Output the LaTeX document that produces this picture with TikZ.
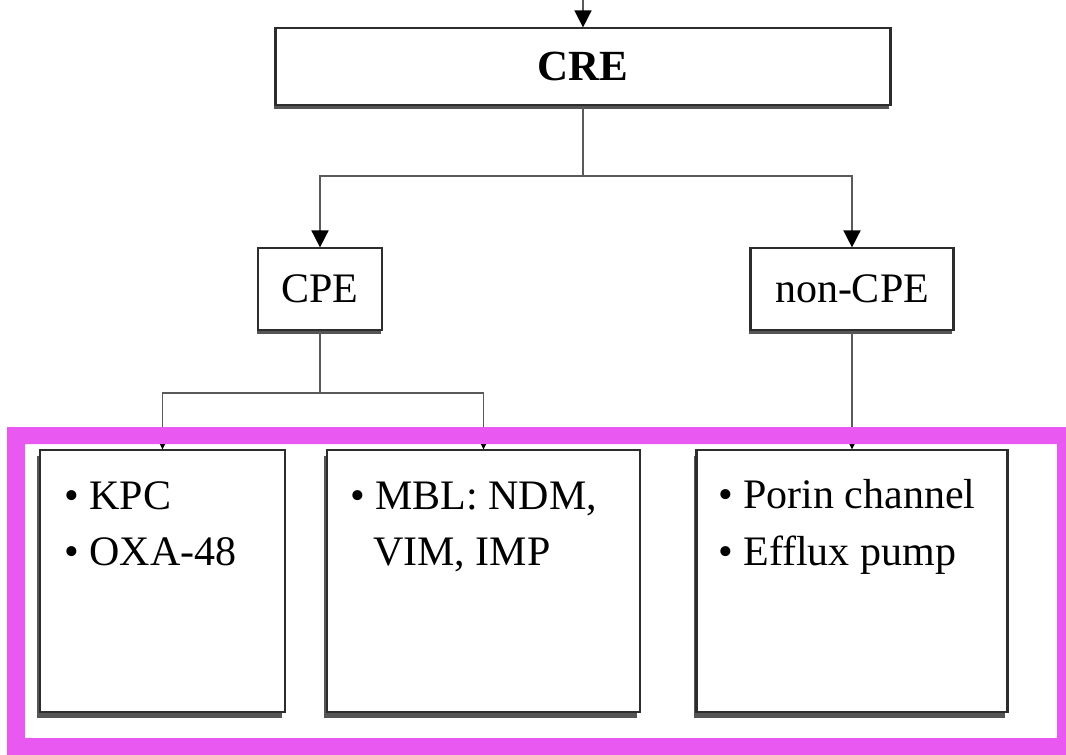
\documentclass[tikz,border=0pt]{standalone}
\usepackage{fontspec}
\setmainfont{Liberation Serif}
\usetikzlibrary{arrows.meta,shadows}
\definecolor{mag}{RGB}{234,88,242}
\definecolor{edgec}{RGB}{45,45,45}
\definecolor{shadec}{RGB}{85,85,85}
\definecolor{connc}{RGB}{90,90,90}
\begin{document}
\begin{tikzpicture}[x=1pt,y=-1pt,
  boxbase/.style={draw=edgec,line width=2.2pt,fill=white,rectangle,inner sep=0pt},
  topbox/.style={boxbase,drop shadow={shadow xshift=-1.5pt,shadow yshift=-4pt,fill=shadec,opacity=1},
    font=\fontsize{42}{50}\selectfont},
  listbox/.style={boxbase,drop shadow={shadow xshift=-3pt,shadow yshift=-6pt,fill=shadec,opacity=1}},
  item/.style={anchor=base west,inner sep=0pt,font=\fontsize{42}{56}\selectfont},
  conn/.style={draw=connc,line width=1.6pt},
  arr/.style={conn,-{Triangle[width=17pt,length=17pt,color=black,fill=black]},shorten >=-0.5pt}
]
\useasboundingbox (0,0) rectangle (1066,755);
\fill[white] (0,0) rectangle (1066,755);

% top nodes
\node[topbox,minimum width=615pt,minimum height=77pt,font=\fontsize{43}{50}\selectfont\bfseries] (cre) at (583,66.5) {CRE};
\node[topbox,minimum width=124pt,minimum height=82pt] (cpe) at (320,289) {CPE};
\node[topbox,minimum width=203pt,minimum height=82pt] (ncpe) at (852,289) {non-CPE};

% bottom boxes
\node[listbox,minimum width=245pt,minimum height=262pt] (b1) at (162.5,581) {};
\node[listbox,minimum width=313pt,minimum height=262pt] (b2) at (483.5,581) {};
\node[listbox,minimum width=311pt,minimum height=262pt] (b3) at (852,581) {};

\node[item] (t1a) at (64,509) {• KPC};
\node[item] (t1b) at (64,565) {• OXA-48};
\node[item] (t2a) at (350,509) {• MBL: NDM,};
\node[item] (t2b) at (373,565) {VIM, IMP};
\node[item] (t3a) at (718,508) {• Porin channel};
\node[item] (t3b) at (718,565) {• Efflux pump};

% connectors
\coordinate (top) at (583,0);
\coordinate (j1) at (583,176);
\coordinate (j2) at (320,393);
\draw[arr] (top) -- (cre.north);
\draw[conn] (cre.south) -- (j1);
\draw[arr] (j1) -| (cpe.north);
\draw[arr] (j1) -| (ncpe.north);
\draw[conn] (cpe.south) -- (j2);
\draw[arr] (j2) -| (b1.north);
\draw[arr] (j2) -| (b2.north);
\draw[arr] (ncpe.south) -- (b3.north);

% magenta highlight frame
\fill[mag,even odd rule] (7,427) rectangle (1066,755) (25,444) rectangle (1057,738);
\end{tikzpicture}
\end{document}
